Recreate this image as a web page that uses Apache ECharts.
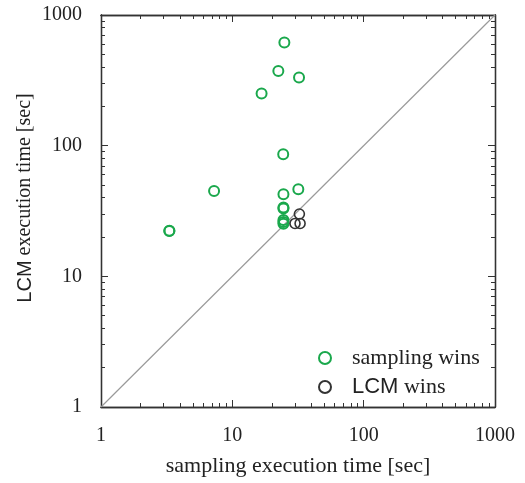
<!DOCTYPE html>
<html><head><meta charset="utf-8">
<script src="https://cdn.jsdelivr.net/npm/echarts@6/dist/echarts.min.js"></script>
<style>html,body{margin:0;padding:0;background:#fff}#c{width:525px;height:483px}</style>
</head><body><div id="c"></div>
<script>
const samplingX = [24.9, 22.4, 32.2, 16.7, 24.4, 7.26, 31.8, 24.5, 24.5, 24.5, 24.5, 24.5, 24.5, 3.31, 3.32];
const samplingY = [615, 372, 333, 251, 86, 45, 46.3, 42.4, 33.7, 33.1, 27.0, 26.0, 25.3, 22.2, 22.3];
const lcmX = [32.4, 30.0, 32.8];
const lcmY = [30.0, 25.4, 25.4];
const diagonal = [[1, 1], [1000, 1000]];
const majorTicks = [1, 10, 100, 1000];
const minorTicks = [2,3,4,5,6,7,8,9,20,30,40,50,60,70,80,90,200,300,400,500,600,700,800,900];

const GREEN = '#1aa84c', DARK = '#333333';
const serif = 'Liberation Serif', sans = 'Liberation Sans';
const zip = (a, b) => a.map((v, i) => [v, b[i]]);

function mkAxis(pos, ticks, len, labels) {
  return {
    type: 'log', logBase: 10, min: 1, max: 1000, position: pos,
    axisLine: { show: true, lineStyle: { color: DARK, width: 1.3 } },
    axisTick: { show: true, inside: true, length: len, customValues: ticks, lineStyle: { color: DARK, width: 1 } },
    axisLabel: labels ? { show: true, customValues: majorTicks, margin: 19, fontFamily: serif, fontSize: 20, color: '#222', formatter: v => String(v) } : { show: false },
    splitLine: { show: false },
    minorTick: { show: false }
  };
}

const chart = echarts.init(document.getElementById('c'));
chart.setOption({
  animation: false,
  grid: { left: 101, right: 30, top: 15, bottom: 76 },
  xAxis: [
    Object.assign(mkAxis('bottom', majorTicks, 7, true), {
      name: 'sampling execution time [sec]', nameLocation: 'middle', nameGap: 48,
      nameTextStyle: { fontFamily: serif, fontSize: 22, color: '#222' }
    }),
    mkAxis('bottom', minorTicks, 4, false),
    mkAxis('top', majorTicks, 7, false),
    mkAxis('top', minorTicks, 4, false)
  ],
  yAxis: [
    Object.assign(mkAxis('left', majorTicks, 7, true), {
      name: '{s|LCM} execution time [sec]', nameLocation: 'middle', nameGap: 66, nameMoveOverlap: false,
      nameTextStyle: { fontFamily: serif, fontSize: 20, color: '#222', padding: [0, 0, 0, 26],
        rich: { s: { fontFamily: sans, fontSize: 20, color: '#222' } } }
    }),
    mkAxis('left', minorTicks, 4, false),
    mkAxis('right', majorTicks, 7, false),
    mkAxis('right', minorTicks, 4, false)
  ],
  legend: {
    orient: 'vertical', left: 313, top: 342, itemWidth: 12, itemHeight: 12, itemGap: 7,
    textStyle: { fontFamily: serif, fontSize: 22, lineHeight: 20, color: '#222', padding: [0, 0, 0, 16],
      rich: { s: { fontFamily: sans, fontSize: 22, lineHeight: 20, color: '#222' } } },
    formatter: n => n === 'LCM wins' ? '{s|LCM} wins' : n,
    data: [
      { name: 'sampling wins', icon: 'circle', itemStyle: { color: 'rgba(0,0,0,0)', borderColor: GREEN, borderWidth: 2, opacity: 1 } },
      { name: 'LCM wins', icon: 'circle', itemStyle: { color: 'rgba(0,0,0,0)', borderColor: DARK, borderWidth: 2, opacity: 1 } }
    ]
  },
  series: [
    { type: 'line', data: diagonal, symbol: 'none', lineStyle: { color: '#9a9a9a', width: 1.2 }, z: 1, silent: true },
    { name: 'sampling wins', type: 'scatter', data: zip(samplingX, samplingY), symbol: 'circle', symbolSize: 10,
      itemStyle: { color: 'rgba(0,0,0,0)', borderColor: GREEN, borderWidth: 2, opacity: 1 }, z: 3 },
    { name: 'LCM wins', type: 'scatter', data: zip(lcmX, lcmY), symbol: 'circle', symbolSize: 10,
      itemStyle: { color: 'rgba(0,0,0,0)', borderColor: DARK, borderWidth: 1.6, opacity: 1 }, z: 3 }
  ]
});
</script></body></html>
